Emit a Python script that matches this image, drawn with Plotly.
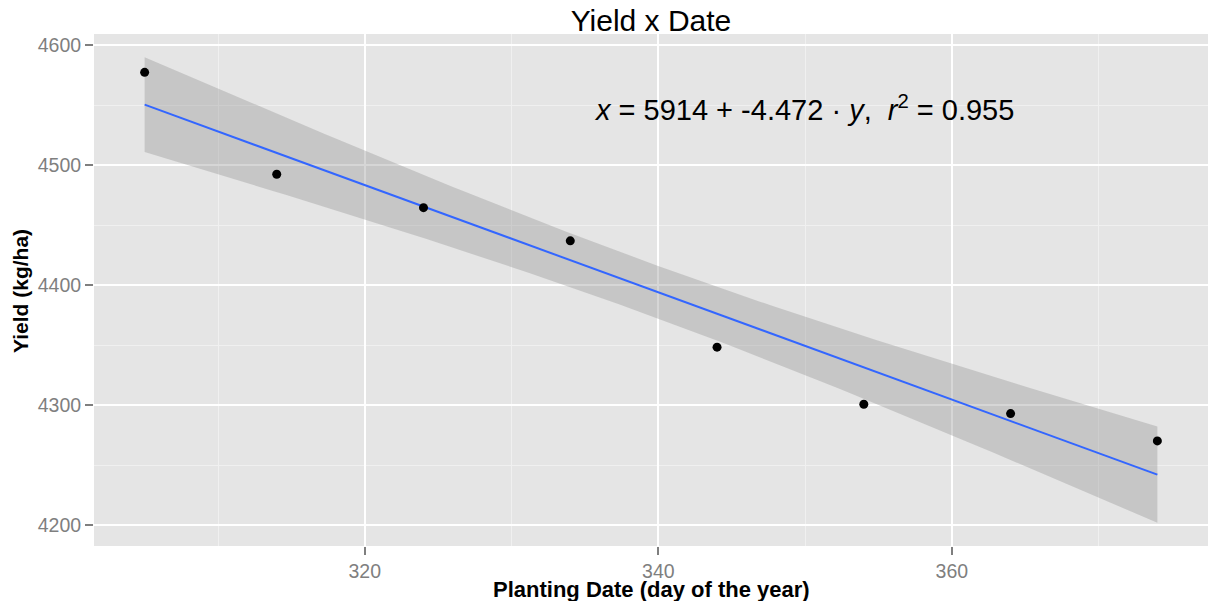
import numpy as np
import plotly.graph_objects as go

# ---- data ----
planting_day = [305, 314, 324, 334, 344, 354, 364, 374]
yield_kg_ha = [4577.5, 4492.5, 4464.7, 4437.0, 4348.4, 4300.8, 4293.0, 4270.2]
x_tick_vals = [320, 340, 360]
y_tick_vals = [4200, 4300, 4400, 4500, 4600]
title_text = "Yield x Date"
x_title = "Planting Date (day of the year)"
y_title = "Yield (kg/ha)"
eq_text = "<i>x</i> = 5914 + -4.472 · <i>y</i>,  <i>r</i><sup>2</sup> = 0.955"

# ---- linear model (as geom_smooth(method='lm')) ----
xa = np.array(planting_day, dtype=float)
ya = np.array(yield_kg_ha, dtype=float)
n = len(xa)
slope, intercept = np.polyfit(xa, ya, 1)
resid = ya - (intercept + slope * xa)
s = np.sqrt(np.sum(resid ** 2) / (n - 2))
sxx = np.sum((xa - xa.mean()) ** 2)
T975 = 2.446912  # t quantile, df = 6
xs = np.linspace(xa.min(), xa.max(), 80)
fit = intercept + slope * xs
se = s * np.sqrt(1.0 / n + (xs - xa.mean()) ** 2 / sxx)
lo = fit - T975 * se
hi = fit + T975 * se

fig = go.Figure()
fig.add_trace(go.Scatter(
    x=np.concatenate([xs, xs[::-1]]), y=np.concatenate([hi, lo[::-1]]),
    fill="toself", fillcolor="rgba(153,153,153,0.4)", line=dict(width=0),
    mode="lines", hoverinfo="skip", showlegend=False))
fig.add_trace(go.Scatter(
    x=xs, y=fit, mode="lines", line=dict(color="#3366FF", width=2),
    showlegend=False))
fig.add_trace(go.Scatter(
    x=planting_day, y=yield_kg_ha, mode="markers",
    marker=dict(color="black", size=9), showlegend=False))

FONT = "Liberation Sans"
W, H = 1208, 601
ML, MR, MT, MB = 94, 0, 34, 55
PW, PH = W - ML - MR, H - MT - MB

fig.add_annotation(x=349.9, y=4548, xref="x", yref="y", text=eq_text,
                   showarrow=False, font=dict(family=FONT, size=29, color="black"))

# axis titles
fig.add_annotation(x=0.5, y=-(589.5 - (H - MB)) / PH, xref="paper", yref="paper",
                   text="<b>" + x_title + "</b>",
                   showarrow=False, xanchor="center", yanchor="middle",
                   font=dict(family=FONT, size=22, color="black"))
fig.add_annotation(x=-(ML - 20) / PW, y=0.498, xref="paper", yref="paper",
                   text="<b>" + y_title + "</b>",
                   showarrow=False, xanchor="center", yanchor="middle", textangle=-90,
                   font=dict(family=FONT, size=21, color="black"))

tick_font = dict(family=FONT, size=19.5, color="#7F7F7F")

xr = [xa.min() - 0.05 * (xa.max() - xa.min()), xa.max() + 0.05 * (xa.max() - xa.min())]
yr = [lo.min() - 0.05 * (hi.max() - lo.min()), hi.max() + 0.05 * (hi.max() - lo.min())]

fig.update_layout(
    width=W, height=H,
    margin=dict(l=ML, r=MR, t=MT, b=MB),
    paper_bgcolor="white", plot_bgcolor="#E5E5E5",
    title=dict(text=title_text, x=0.5, xref="paper", xanchor="center",
               y=1 - 20.5 / H, yref="container", yanchor="middle",
               font=dict(family=FONT, size=30, color="black")),
    xaxis=dict(range=xr, tickvals=x_tick_vals, showgrid=True, gridcolor="white", gridwidth=2,
               zeroline=False, ticks="outside", ticklen=8, tickwidth=1.5, tickcolor="#7F7F7F",
               tickfont=tick_font, showline=False,
               minor=dict(dtick=10, tick0=0, showgrid=True, gridcolor="#F0F0F0", gridwidth=1)),
    yaxis=dict(range=yr, tickvals=y_tick_vals, showgrid=True, gridcolor="white", gridwidth=2,
               zeroline=False, ticks="outside", ticklen=8, tickwidth=1.5, tickcolor="#7F7F7F",
               tickfont=tick_font, showline=False,
               minor=dict(dtick=50, tick0=0, showgrid=True, gridcolor="#F0F0F0", gridwidth=1)),
)

fig.write_html("out.html", config={"displayModeBar": False},
               post_script="document.body.style.margin='0';document.body.style.overflow='hidden';")
